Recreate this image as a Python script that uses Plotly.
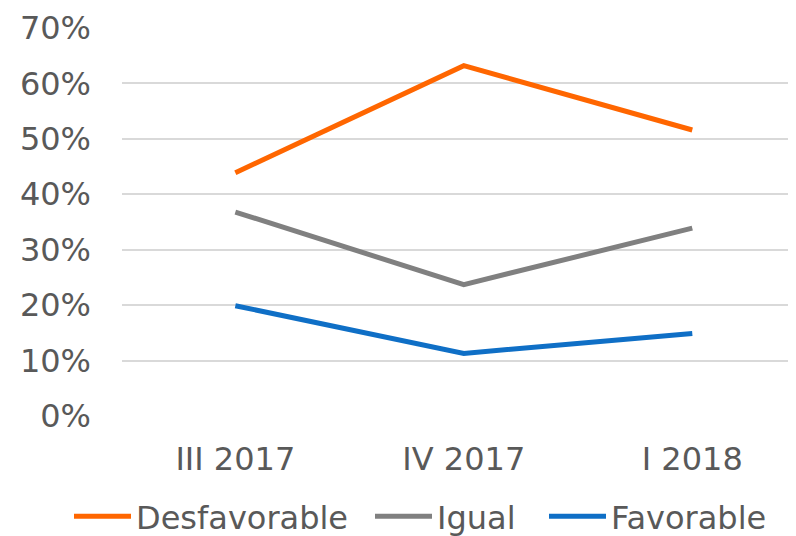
import plotly.graph_objects as go

# Quarters on the x axis
quarters = ["III 2017", "IV 2017", "I 2018"]

# Share of answers per quarter (percent)
desfavorable = [43.9, 63.2, 51.6]
igual = [36.8, 23.7, 33.9]
favorable = [19.9, 11.3, 14.9]

y_ticks = [0, 10, 20, 30, 40, 50, 60, 70]
y_labels = [f"{v}%" for v in y_ticks]

FIG_W = 812  # a bit wider than the window so the gridlines run off the right edge

# the page body adds an 8px margin, so everything is placed 8px up/left
# name, values, colour, legend id, legend left edge (px in container)
series = [
    ("Desfavorable", desfavorable, "#FF6600", "legend", 61),
    ("Igual", igual, "#808080", "legend2", 362),
    ("Favorable", favorable, "#0F6FC6", "legend3", 536),
]

fig = go.Figure()
for name, values, color, leg, _ in series:
    fig.add_trace(go.Scatter(
        x=quarters, y=values, name=name, mode="lines",
        line=dict(color=color, width=5),
        legend=leg,
    ))

# one legend per series so each entry sits where the reference has it
legends = {}
for name, values, color, leg, left in series:
    legends[leg] = dict(
        orientation="h",
        x=left / FIG_W, xanchor="left", xref="container",
        y=-0.039, yanchor="bottom", yref="container",
        font=dict(family="DejaVu Sans", size=32, color="#595959"),
        itemwidth=57,
        bgcolor="rgba(0,0,0,0)",
    )

fig.update_layout(
    width=FIG_W, height=536,
    margin=dict(l=114, r=0, t=20, b=128, autoexpand=False),
    paper_bgcolor="white",
    plot_bgcolor="white",
    font=dict(family="DejaVu Sans", size=32, color="#595959"),
    showlegend=True,
    xaxis=dict(
        type="category",
        range=[-0.496, 2.559],
        showgrid=False, zeroline=False, showline=False,
        ticks="", ticklabelstandoff=21, automargin=False,
    ),
    yaxis=dict(
        range=[0, 70],
        tickmode="array", tickvals=y_ticks, ticktext=y_labels,
        showgrid=True, gridcolor="#D9D9D9", gridwidth=1.5,
        zeroline=False, showline=False,
        ticks="", ticklabelstandoff=30, automargin=False,
    ),
    **legends,
)

fig.write_html("out.html")
